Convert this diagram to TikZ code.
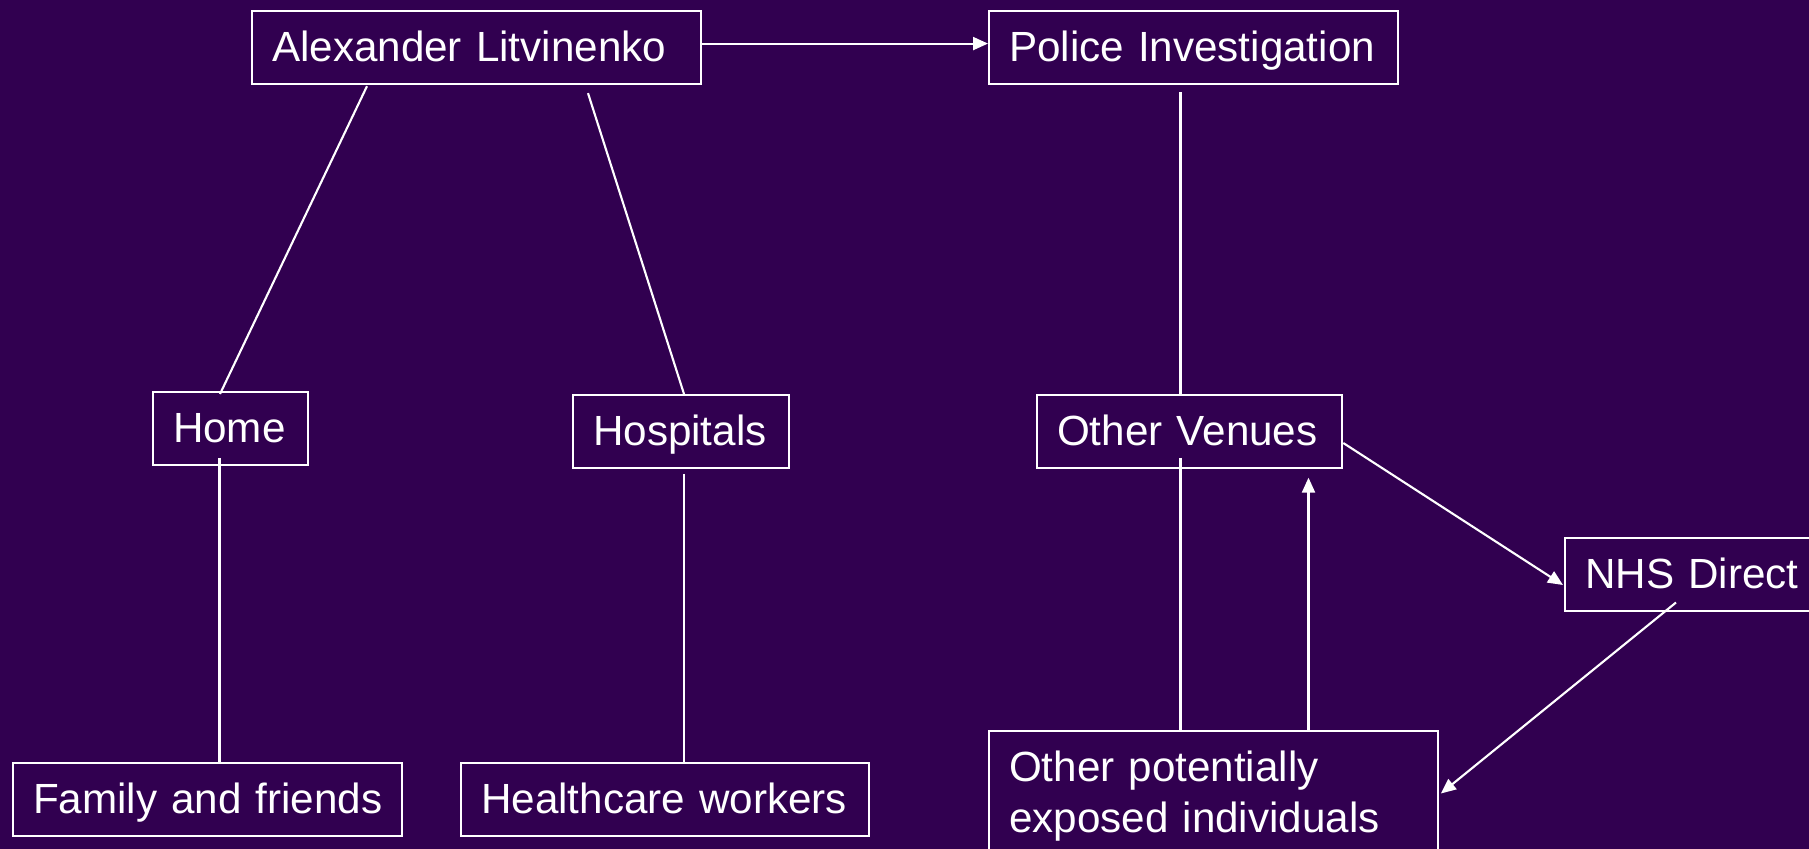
\documentclass[tikz,border=0pt]{standalone}
\usepackage{fontspec}
\setmainfont{Liberation Sans}
\usetikzlibrary{arrows.meta}
\definecolor{plum}{RGB}{49,0,80}

\begin{document}
\begin{tikzpicture}[x=0.01cm, y=-0.01cm,
		box/.style={draw=white, text=white, line width=0.6pt, anchor=north west, align=left,
			inner xsep=0.2cm, inner ysep=0.2cm, font=\fontsize{12}{14.4}\selectfont},
		single/.style={box, minimum height=0.73cm, text height=0.30cm, text depth=0.03cm, text width=#1},
		link/.style={white, line width=0.6pt},
		arr/.style={link, -{Triangle[length=0.15cm, width=0.13cm]}}]
	\useasboundingbox (0,0) rectangle (1809,849);
	\clip (0,0) rectangle (1809,849);
	\fill[plum] (0,0) rectangle (1809,849);

	% boxes
	\node[single=4.09cm] (alex) at (251,10) {Alexander Litvinenko};
	\node[single=3.69cm] (police) at (988,10) {Police Investigation};
	\node[single=1.15cm] (home) at (152,391) {Home};
	\node[single=1.76cm] (hosp) at (572,394) {Hospitals};
	\node[single=2.65cm] (venues) at (1036,394) {Other Venues};
	\node[single=2.36cm] (nhs) at (1564,537) {NHS Direct};
	\node[single=3.49cm] (family) at (12,762) {\mbox{Family and friends}};
	\node[single=3.68cm] (health) at (460,762) {Healthcare workers};
	\node[box, text width=4.09cm] (others) at (988,730) {Other potentially\\exposed individuals};

	% links
	\draw[arr] ([shift={(0,-4)}]alex.east) -- ([shift={(0,-4)}]police.west);
	\draw[link] ([shift={(116,1)}]alex.south west) -- ([shift={(68,3)}]home.north west);
	\draw[link] ([shift={(337,8)}]alex.south west) -- ([shift={(112,0)}]hosp.north west);
	\draw[link] ([shift={(67.5,67)}]home.north west) -- ([shift={(207.5,0)}]family.north west);
	\draw[link] ([shift={(112,80)}]hosp.north west) -- ([shift={(224,0)}]health.north west);
	\draw[link] ([shift={(192.5,7)}]police.south west) -- ([shift={(144.5,0)}]venues.north west);
	\draw[link] ([shift={(144.5,64)}]venues.north west) -- ([shift={(192.5,0)}]others.north west);
	\draw[arr] ([shift={(320.5,0)}]others.north west) -- ([shift={(272.5,8.5)}]venues.south west);
	\draw[arr] ([shift={(0,49)}]venues.north east) -- ([shift={(-1,48)}]nhs.north west);
	\draw[arr] ([shift={(112,65.5)}]nhs.north west) -- ([shift={(1.5,63.5)}]others.north east);
\end{tikzpicture}
\end{document}
